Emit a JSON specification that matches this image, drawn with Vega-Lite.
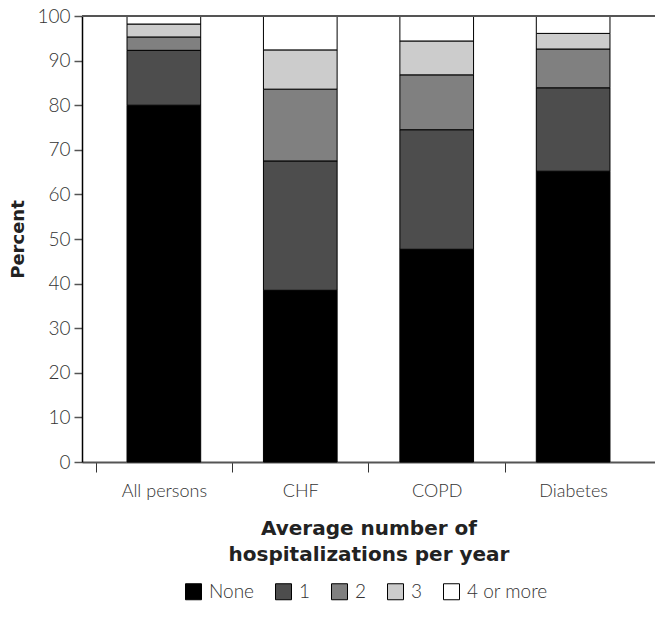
{
  "$schema": "https://vega.github.io/schema/vega-lite/v6.json",
  "width": 573,
  "height": 446,
  "autosize": {"type": "none"},
  "padding": {"left": 82, "top": 16, "right": 0, "bottom": 167},
  "config": {"view": {"stroke": null}, "font": "Lato"},
  "data": {
    "values": [
      {"group": "All persons", "cat": "None", "ord": 0, "value": 80.0},
      {"group": "All persons", "cat": "1", "ord": 1, "value": 12.3},
      {"group": "All persons", "cat": "2", "ord": 2, "value": 3.0},
      {"group": "All persons", "cat": "3", "ord": 3, "value": 2.9},
      {"group": "All persons", "cat": "4 or more", "ord": 4, "value": 1.8},
      {"group": "CHF", "cat": "None", "ord": 0, "value": 38.5},
      {"group": "CHF", "cat": "1", "ord": 1, "value": 29.0},
      {"group": "CHF", "cat": "2", "ord": 2, "value": 16.1},
      {"group": "CHF", "cat": "3", "ord": 3, "value": 8.8},
      {"group": "CHF", "cat": "4 or more", "ord": 4, "value": 7.6},
      {"group": "COPD", "cat": "None", "ord": 0, "value": 47.7},
      {"group": "COPD", "cat": "1", "ord": 1, "value": 26.8},
      {"group": "COPD", "cat": "2", "ord": 2, "value": 12.3},
      {"group": "COPD", "cat": "3", "ord": 3, "value": 7.6},
      {"group": "COPD", "cat": "4 or more", "ord": 4, "value": 5.6},
      {"group": "Diabetes", "cat": "None", "ord": 0, "value": 65.2},
      {"group": "Diabetes", "cat": "1", "ord": 1, "value": 18.7},
      {"group": "Diabetes", "cat": "2", "ord": 2, "value": 8.7},
      {"group": "Diabetes", "cat": "3", "ord": 3, "value": 3.5},
      {"group": "Diabetes", "cat": "4 or more", "ord": 4, "value": 3.9}
    ]
  },
  "layer": [
    {
      "mark": {"type": "bar", "stroke": "black", "strokeWidth": 1},
      "encoding": {
        "x": {
          "field": "group",
          "type": "nominal",
          "sort": ["All persons", "CHF", "COPD", "Diabetes"],
          "scale": {"paddingInner": 0.46, "paddingOuter": 0.33},
          "title": ["Average number of", "hospitalizations per year"],
          "axis": {
            "domainColor": "#555",
            "domainWidth": 2,
            "tickColor": "#333",
            "tickSize": 10,
            "tickWidth": 1,
            "tickOffset": -68.25,
            "labelOffset": 68.25,
            "labelAngle": 0,
            "labelFont": "Lato",
            "labelFontWeight": 300,
            "labelFontSize": 18,
            "labelColor": "#333",
            "labelPadding": 10,
            "titleFont": "DejaVu Sans",
            "titleFontSize": 20,
            "titleFontWeight": "bold",
            "titleColor": "#222",
            "titlePadding": 18,
            "titleLineHeight": 26
          }
        },
        "y": {
          "field": "value",
          "type": "quantitative",
          "stack": "zero",
          "scale": {"domain": [0, 100]},
          "title": "Percent",
          "axis": {
            "values": [0, 10, 20, 30, 40, 50, 60, 70, 80, 90, 100],
            "grid": false,
            "domainColor": "black",
            "domainWidth": 1.5,
            "tickColor": "#555",
            "tickSize": 8,
            "tickWidth": 1.5,
            "labelFont": "Lato",
            "labelFontWeight": 300,
            "labelFontSize": 19,
            "labelColor": "#333",
            "labelPadding": 4,
            "titleFont": "DejaVu Sans",
            "titleFontSize": 18,
            "titleFontWeight": "bold",
            "titleColor": "#222",
            "titlePadding": 9
          }
        },
        "color": {
          "field": "cat",
          "type": "nominal",
          "scale": {
            "domain": ["None", "1", "2", "3", "4 or more"],
            "range": ["#000000", "#4d4d4d", "#808080", "#cccccc", "#ffffff"]
          },
          "legend": {
            "title": null,
            "orient": "none",
            "direction": "horizontal",
            "legendX": 102,
            "legendY": 566,
            "symbolType": "square",
            "symbolSize": 256,
            "symbolStrokeColor": "black",
            "symbolStrokeWidth": 1,
            "symbolOpacity": 1,
            "labelFont": "Lato",
            "labelFontWeight": 300,
            "labelFontSize": 19,
            "labelColor": "#333",
            "labelOffset": 6,
            "columnPadding": 18
          }
        },
        "order": {"field": "ord", "type": "quantitative", "sort": "ascending"}
      }
    },
    {
      "data": {"values": [{}]},
      "mark": {"type": "rule", "color": "#555", "strokeWidth": 2},
      "encoding": {"y": {"datum": 100, "type": "quantitative"}}
    }
  ]
}
